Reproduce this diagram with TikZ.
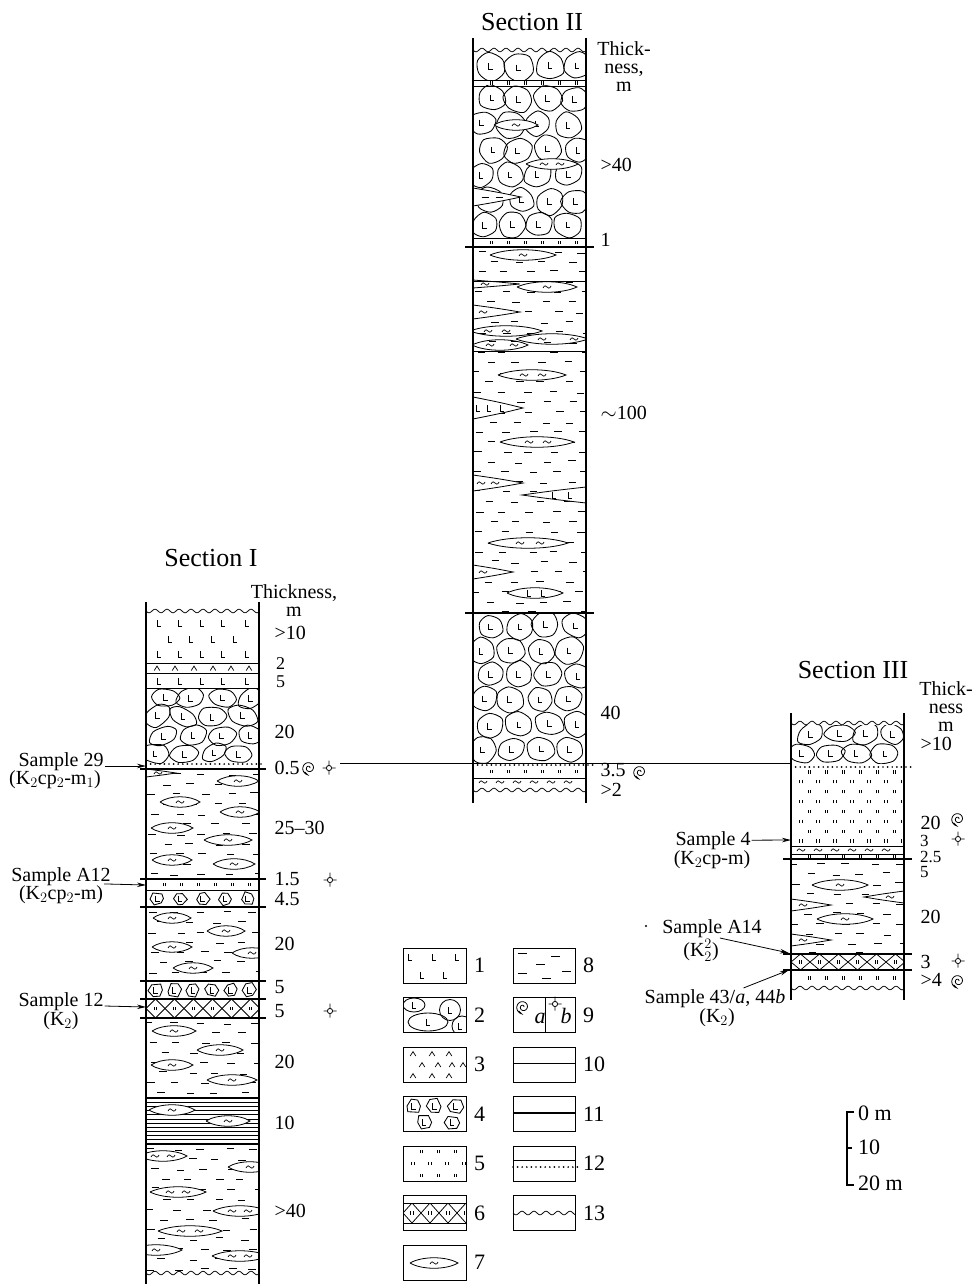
\documentclass[tikz,border=0pt]{standalone}
\usepackage{fontspec}
\setmainfont{Liberation Serif}
\usetikzlibrary{arrows.meta,calc}

\tikzset{
  wall/.style={line width=1.4pt},
  bed/.style={line width=0.75pt},
  thickbed/.style={line width=2.4pt},
  dotbed/.style={line width=1.9pt,dash pattern=on 0pt off 4.6pt,line cap=round},
  pebble/.style={line width=0.85pt},
  lensline/.style={line width=0.8pt,fill=white},
  lensopen/.style={line width=0.8pt},
  clay/.style={line width=0.8pt},
  sectitle/.style={font=\fontsize{26}{26}\selectfont,inner sep=0pt},
  thickhead/.style={font=\fontsize{20}{18}\selectfont,align=center,inner sep=0pt},
  num/.style={font=\fontsize{20}{20}\selectfont,anchor=west,inner sep=0.5pt},
  smallnum/.style={font=\fontsize{17}{17}\selectfont,anchor=west,inner sep=0pt},
  samplelbl/.style={font=\fontsize{20}{20}\selectfont,anchor=base,inner sep=1pt},
  samplearrow/.style={line width=0.8pt,-{Stealth[length=9pt,width=4.5pt]}},
  legbox/.style={line width=1pt},
  legnum/.style={font=\fontsize{22}{22}\selectfont,anchor=west,inner sep=0pt},
  lmark/.pic={\draw[line width=0.75pt] (-2,3) -- (-2,-3) -- (2.2,-3);},
  caret/.pic={\draw[line width=0.7pt] (-2.8,-2) -- (0,2.4) -- (2.8,-2);},
  iimark/.pic={\draw[line width=0.7pt] (-1.3,-1.6) -- (-1.3,1.6) (1.3,-1.6) -- (1.3,1.6);},
  tilde/.pic={\draw[line width=0.7pt] (-4,-1) .. controls (-2.5,2.2) and (-1,1.2) .. (0,0) .. controls (1,-1.2) and (2.5,-2.2) .. (4,1);},
  dashmark/.pic={\draw[line width=0.8pt] (-3.5,0) -- (3.5,0);},
  fossila/.pic={\draw[line width=0.8pt] plot[domain=0:620,samples=50,smooth] ({(0.8+\x/100)*cos(\x)},{(0.8+\x/100)*sin(\x)}) -- ++(-3,3);},
  fossilb/.pic={\draw[line width=0.8pt] (0,0) circle (2.6) (0,2.6) -- (0,7.5) (0,-2.6) -- (0,-6.5) (-2.6,0) -- (-6.5,0) (2.6,0) -- (6.5,0);},
}

% wavy line: x1 x2 y
\newcommand{\wavyline}[3]{\draw[bed] plot[domain=#1:#2,samples=90,smooth] (\x,{#3+1.8*sin((\x-#1)*30)});}
% clay dashes: x1 y1 x2 y2 seed
\newcommand{\clayfill}[5]{%
  \begin{scope}
    \clip (#1,#2) rectangle (#3,#4);
    \pgfmathsetseed{#5}
    \pgfmathtruncatemacro{\nrow}{(#4-#2)/10}
    \foreach \rr in {0,...,\nrow}{
      \foreach \cc in {0,...,5}{
        \pgfmathsetmacro{\dxx}{#1+2+\cc*26+mod(\rr,2)*13+4*rand}
        \pgfmathsetmacro{\dyy}{#2+5+\rr*10+1.2*rand}
        \draw[clay] (\dxx,\dyy) -- ++(7.5,0);
      }}
  \end{scope}}
% lens: x y halfwidth offsets pic
\newcommand{\lensat}[5]{%
  \draw[lensline] ({#1-#3},#2) .. controls ({#1-#3/2},{#2-7}) and ({#1+#3/2},{#2-7}) .. ({#1+#3},#2) .. controls ({#1+#3/2},{#2+7}) and ({#1-#3/2},{#2+7}) .. ({#1-#3},#2);
  \foreach \o in {#4}{\pic at ({#1+(\o)},#2) {#5};}}
\newcommand{\openlens}[5]{%
  \draw[lensopen] ({#1-#3},#2) .. controls ({#1-#3/2},{#2-7}) and ({#1+#3/2},{#2-7}) .. ({#1+#3},#2) .. controls ({#1+#3/2},{#2+7}) and ({#1-#3/2},{#2+7}) .. ({#1-#3},#2);
  \foreach \o in {#4}{\pic at ({#1+(\o)},#2) {#5};}}
% wedge from a wall: wall-x y length(signed) height offsets pic
\newcommand{\wedgeat}[6]{%
  \draw[lensline] (#1,{#2-#4/2}) .. controls ({#1+0.55*(#3)},{#2-#4/4}) .. ({#1+(#3)},#2) .. controls ({#1+0.55*(#3)},{#2+#4/4}) .. (#1,{#2+#4/2}) -- cycle;
  \foreach \o in {#5}{\pic at ({#1+(\o)},#2) {#6};}}
% pebbles: x1 y1 x2 y2 ncol nrow seed
\newcommand{\pebblefill}[7]{%
  \begin{scope}
    \clip (#1,#2) rectangle (#3,#4);
    \pgfmathsetseed{#7}
    \pgfmathsetmacro{\pdx}{(#3-#1)/#5}
    \pgfmathsetmacro{\pdy}{(#4-#2)/#6}
    \foreach \j in {1,...,#6}{
      \foreach \i in {1,...,#5}{
        \pgfmathsetmacro{\pcx}{#1+(\i-0.5)*\pdx+(mod(\j,2)-0.5)*0.3*\pdx+0.08*\pdx*rand}
        \pgfmathsetmacro{\pcy}{#2+(\j-0.5)*\pdy+0.06*\pdy*rand}
        \pgfmathsetmacro{\prx}{0.49*\pdx*(1+0.1*rand)}
        \pgfmathsetmacro{\pry}{0.49*\pdy*(1+0.1*rand)}
        \pgfmathsetmacro{\prot}{35*rand}
        \draw[pebble,shift={(\pcx,\pcy)},rotate=\prot] plot[smooth cycle,samples at={0,60,...,300}] ({\prx*(1+0.1*(2*rnd-1))*cos(\x)},{\pry*(1+0.12*(2*rnd-1))*sin(\x)});
        \pic at (\pcx,\pcy) {lmark};
      }}
  \end{scope}}
% angular clasts: x1 y1 x2 y2 n seed radius
\newcommand{\clastfill}[7]{%
  \begin{scope}
    \clip (#1,#2) rectangle (#3,#4);
    \pgfmathsetseed{#6}
    \pgfmathsetmacro{\cdx}{(#3-#1)/#5}
    \foreach \i in {1,...,#5}{
      \pgfmathsetmacro{\ccx}{#1+(\i-0.5)*\cdx}
      \pgfmathsetmacro{\ccy}{(#2+#4)/2}
      \draw[pebble,shift={(\ccx,\ccy)}] plot[samples at={0,60,...,300}] ({\x+12*(2*rnd-1)}:{#7*(1+0.18*(2*rnd-1))}) -- cycle;
      \pic at (\ccx,\ccy) {lmark};
    }
  \end{scope}}
% sandy ticks: x1 y1 x2 y2 nrows
\newcommand{\tickfill}[5]{%
  \begin{scope}
    \clip (#1,#2) rectangle (#3,#4);
    \pgfmathsetmacro{\tdy}{(#4-#2)/#5}
    \foreach \rr in {1,...,#5}{
      \pgfmathsetmacro{\tyy}{#2+(\rr-0.5)*\tdy}
      \pgfmathsetmacro{\toff}{mod(\rr,2)*8.5}
      \foreach \k in {0,...,7}{\pic at ({#1+10+\toff+\k*17},\tyy) {iimark};}
    }
  \end{scope}}
% crossed diamonds: x1 y1 x2 y2 d
\newcommand{\diamondfill}[5]{%
  \begin{scope}
    \clip (#1,#2) rectangle (#3,#4);
    \foreach \k in {0,...,4}{
      \pgfmathsetmacro{\zx}{#1-#5/2+\k*2*#5}
      \draw[bed] (\zx,#2) -- ({\zx+#5},#4) -- ({\zx+2*#5},#2);
      \draw[bed] (\zx,#4) -- ({\zx+#5},#2) -- ({\zx+2*#5},#4);
      \pic at ({\zx+#5},{(#2+#4)/2}) {iimark};
      \pic at ({\zx+2*#5},{(#2+#4)/2}) {iimark};
    }
  \end{scope}}
% horizontal lines: x1 y1 x2 y2 n
\newcommand{\hlinefill}[5]{%
  \foreach \k in {1,...,#5}{\draw[bed] (#1,{#2+\k*(#4-#2)/(#5+1)}) -- (#3,{#2+\k*(#4-#2)/(#5+1)});}}

\begin{document}
\begin{tikzpicture}[x=1pt,y=1pt,yscale=-1]
\useasboundingbox (0,0) rectangle (974,1284);

%%%%%%%%%%%%%%%% Section I
\begin{scope}
\clip (146,602) rectangle (259,1284);
\wavyline{146}{259}{611}
\foreach \lx in {159,180,202,223,247}{\pic at (\lx,623) {lmark}; \pic at (\lx,654) {lmark}; \pic at (\lx,681) {lmark};}
\foreach \lx in {170,191,213,235}{\pic at (\lx,639) {lmark};}
\foreach \lx in {157,175,194,213,231,249}{\pic at (\lx,668.5) {caret};}
\pebblefill{146}{688}{259}{763}{4}{4}{11}
\clayfill{146}{769}{259}{879}{21}
\wedgeat{146}{773}{30}{8}{12}{tilde}
\lensat{238}{781}{21}{0}{tilde}
\lensat{180}{802}{20}{0}{tilde}
\lensat{240}{812}{20}{0}{tilde}
\lensat{172}{828}{21}{0}{tilde}
\lensat{228}{840}{24}{0}{tilde}
\lensat{172}{860}{20}{0}{tilde}
\lensat{234}{864}{21}{0}{tilde}
\tickfill{146}{879}{259}{890}{1}
\clastfill{146}{890}{259}{907}{5}{31}{6.5}
\clayfill{146}{907}{259}{981}{22}
\lensat{172}{918}{19}{0}{tilde}
\lensat{226}{931}{19}{0}{tilde}
\lensat{172}{947}{20}{0}{tilde}
\lensat{252}{953}{20}{0}{tilde}
\lensat{193}{968}{20}{0}{tilde}
\clastfill{146}{981}{259}{999}{6}{32}{6.8}
\diamondfill{146}{999}{259}{1018}{19}
\clayfill{146}{1018}{259}{1098}{23}
\lensat{174}{1031}{22}{0}{tilde}
\lensat{220}{1050}{23}{0}{tilde}
\lensat{172}{1065}{21}{0}{tilde}
\lensat{232}{1080}{25}{0}{tilde}
\hlinefill{146}{1098}{259}{1144}{10}
\lensat{172}{1110}{23}{0}{tilde}
\lensat{228}{1121}{22}{0}{tilde}
\clayfill{146}{1144}{259}{1273}{24}
\lensat{163}{1156}{24}{-8,8}{tilde}
\lensat{250}{1167}{22}{0}{tilde}
\lensat{178}{1192}{28}{-8,8}{tilde}
\lensat{240}{1211}{27}{-8,8}{tilde}
\lensat{190}{1231}{32}{-9,9}{tilde}
\lensat{156}{1250}{26}{0}{tilde}
\lensat{240}{1256}{28}{-8,8}{tilde}
\wavyline{146}{259}{1273}
\end{scope}
%Straight Lines
\draw[bed] (146,663) -- (259,663);
\draw[bed] (146,673) -- (259,673);
\draw[bed] (146,688) -- (259,688);
\draw[dotbed] (146,764) -- (262,764);
\draw[thickbed] (140,769) -- (266,769);
\draw[thickbed] (140,879) -- (266,879);
\draw[bed] (146,890) -- (259,890);
\draw[thickbed] (140,907) -- (266,907);
\draw[thickbed] (140,981) -- (266,981);
\draw[thickbed] (140,999) -- (266,999);
\draw[thickbed] (140,1018) -- (266,1018);
\draw[bed,line width=1.1pt] (146,1098) -- (259,1098);
\draw[bed,line width=1.1pt] (146,1144) -- (259,1144);
\draw[wall] (146,602) -- (146,1284);
\draw[wall] (259,602) -- (259,1284);

%%%%%%%%%%%%%%%% Section II
\begin{scope}
\clip (473,38) rectangle (586,803);
\wavyline{473}{586}{50}
\pebblefill{473}{52}{586}{80}{4}{1}{41}
\tickfill{473}{80}{586}{86}{1}
\pebblefill{473}{86}{586}{238}{4}{6}{42}
\lensat{516}{125}{22}{0}{tilde}
\lensat{552}{164}{26}{-8,8}{tilde}
\wedgeat{473}{197}{48}{18}{12,26}{dashmark}
\tickfill{473}{238}{586}{247}{1}
\clayfill{473}{247}{586}{613}{43}
\lensat{523}{255}{33}{0}{tilde}
\wedgeat{473}{284}{47}{8}{12}{tilde}
\lensat{547}{287}{30}{0}{tilde}
\wedgeat{473}{312}{47}{14}{10}{tilde}
\openlens{506}{331}{36}{-18,0}{tilde}
\openlens{552}{339}{36}{-10,22}{tilde}
\openlens{500}{345}{28}{-10,14}{tilde}
\lensat{532}{375}{34}{-8,10}{tilde}
\wedgeat{473}{408}{50}{22}{5,16,29}{lmark}
\lensat{537}{442}{37}{-8,10}{tilde}
\wedgeat{473}{483}{50}{16}{8,22}{tilde}
\wedgeat{586}{495}{-64}{16}{-32,-16}{lmark}
\lensat{528}{543}{40}{-8,12}{tilde}
\wedgeat{473}{572}{40}{14}{10}{tilde}
\lensat{535}{593}{28}{-6,8}{lmark}
\pebblefill{473}{613}{586}{762}{4}{6}{44}
\tickfill{473}{765}{586}{778}{1}
\foreach \tx in {483,500,517,534,551,568}{\pic at (\tx,782) {tilde};}
\wavyline{473}{586}{790}
\end{scope}
%Straight Lines
\draw[bed] (473,80) -- (586,80);
\draw[bed] (473,86) -- (586,86);
\draw[bed] (473,238) -- (586,238);
\draw[thickbed] (465,247) -- (594,247);
\draw[bed] (473,281) -- (586,281);
\draw[bed] (473,351) -- (586,351);
\draw[thickbed] (465,613) -- (594,613);
\draw[dotbed] (473,765) -- (597,765);
\draw[bed] (473,778) -- (586,778);
\draw[wall] (473,38) -- (473,803);
\draw[wall] (586,38) -- (586,803);

%%%%%%%%%%%%%%%% Section III
\begin{scope}
\clip (791,713) rectangle (904,1000);
\wavyline{791}{904}{723}
\pebblefill{791}{725}{904}{763}{4}{2}{51}
\tickfill{791}{767}{904}{846}{8}
\foreach \tx in {801,818,835,852,869,886}{\pic at (\tx,850) {tilde};}
\tickfill{791}{854}{904}{859}{1}
\clayfill{791}{859}{904}{954}{52}
\lensat{840}{885}{28}{0}{tilde}
\wedgeat{904}{897}{-40}{12}{-14}{tilde}
\wedgeat{791}{905}{40}{12}{12}{tilde}
\lensat{845}{919}{28}{0}{tilde}
\wedgeat{791}{940}{40}{12}{12}{tilde}
\diamondfill{791}{954}{904}{970}{19}
\tickfill{791}{970}{904}{986}{1}
\wavyline{791}{904}{988}
\end{scope}
%Straight Lines
\draw[dotbed] (791,767) -- (912,767);
\draw[bed] (791,846) -- (904,846);
\draw[bed] (791,854) -- (904,854);
\draw[thickbed] (783,859) -- (912,859);
\draw[thickbed] (783,954) -- (912,954);
\draw[thickbed] (783,970) -- (912,970);
\draw[wall] (791,713) -- (791,1000);
\draw[wall] (904,713) -- (904,1000);

% correlation line
\coordinate (corrI) at (340,763);
\coordinate (corrIII) at (791,763);
\draw[bed] (corrI) -- (corrIII);

% Text Node
\node[sectitle] (secI) at (211,558) {Section I};
\node[sectitle] (secII) at (532,22) {Section II};
\node[sectitle] (secIII) at (853,670) {Section III};
\node[thickhead] (thI) at (294,601) {Thickness,\\m};
\node[thickhead] (thII) at (624,67) {Thick-\\ness,\\m};
\node[thickhead] (thIII) at (946,707) {Thick-\\ness\\m};

% thicknesses, section I
\node[num] (nIa) at (274,633) {>10};
\node[smallnum,font=\fontsize{18}{18}\selectfont] (nIb) at (276,664) {2};
\node[smallnum,font=\fontsize{18}{18}\selectfont] (nIc) at (276,681.5) {5};
\node[num] (nId) at (274,732) {20};
\node[num] (nIe) at (274,768) {0.5};
\node[num] (nIf) at (274,828) {25--30};
\node[num] (nIg) at (274,879) {1.5};
\node[num] (nIh) at (274,899) {4.5};
\node[num] (nIi) at (274,944) {20};
\node[num] (nIj) at (274,987) {5};
\node[num] (nIk) at (274,1011) {5};
\node[num] (nIl) at (274,1062) {20};
\node[num] (nIm) at (274,1123) {10};
\node[num] (nIn) at (274,1211) {>40};
% thicknesses, section II
\node[num] (nIIa) at (600,165) {>40};
\node[num] (nIIb) at (600,240) {1};
\node[num] (nIIc) at (600,413) {$\sim$100};
\node[num] (nIId) at (600,713) {40};
\node[num] (nIIe) at (600,770) {3.5};
\node[num] (nIIf) at (600,790) {>2};
% thicknesses, section III
\node[num] (nIIIa) at (920,744) {>10};
\node[num] (nIIIb) at (920,823) {20};
\node[smallnum] (nIIIc) at (920,841) {3};
\node[smallnum] (nIIId) at (920,856.5) {2.5};
\node[smallnum] (nIIIe) at (920,872) {5};
\node[num] (nIIIf) at (920,917) {20};
\node[num] (nIIIg) at (920,962) {3};
\node[num] (nIIIh) at (920,980) {>4};

% fossils
\pic at (309,768) {fossila};
\pic at (329,768) {fossilb};
\pic at (330,880) {fossilb};
\pic at (330,1011) {fossilb};
\pic at (640,772) {fossila};
\pic at (958,819) {fossila};
\pic at (958,839) {fossilb};
\pic at (958,961) {fossilb};
\pic at (958,981) {fossila};

% samples
\node[samplelbl] (s29) at (61,766) {Sample 29};
\node[samplelbl] (s29k) at (55,784) {(K$_2$cp$_2$-m$_1$)};
\coordinate (c29) at (146,766);
\draw[samplearrow] (s29.base east) -- (c29);
\node[samplelbl] (sA12) at (61,881) {Sample A12};
\node[samplelbl] (sA12k) at (61,899) {(K$_2$cp$_2$-m)};
\coordinate (cA12) at (146,885);
\draw[samplearrow] (sA12k.north east) -- (cA12);
\node[samplelbl] (s12) at (61,1006) {Sample 12};
\node[samplelbl] (s12k) at (61,1025) {(K$_2$)};
\coordinate (c12) at (146,1007);
\draw[samplearrow] (s12.base east) -- (c12);
\node[samplelbl] (s4) at (713,845) {Sample 4};
\node[samplelbl] (s4k) at (712,864) {(K$_2$cp-m)};
\coordinate (c4) at (791,840);
\draw[samplearrow] (s4.east) -- (c4);
\fill (646,926) circle (1.2);
\node[samplelbl] (sA14) at (712,933) {Sample A14};
\node[samplelbl] (sA14k) at (701,956) {(K$_2^2$)};
\coordinate (cA14) at (789,953);
\draw[samplearrow] (sA14k.north east) -- (cA14);
\node[samplelbl] (s43) at (715,1003) {Sample 43/\textit{a}, 44\textit{b}};
\node[samplelbl] (s43k) at (717,1022) {(K$_2$)};
\coordinate (c43) at (789,970);
\draw[samplearrow] ($(s43.north)!0.4!(s43.north east)$) -- (c43);

%%%%%%%%%%%%%%%% Legend
\foreach \row in {0,...,6}{\draw[legbox] (403,{948+\row*49.5}) rectangle (466,{983+\row*49.5});}
\foreach \row in {0,...,5}{\draw[legbox] (513,{948+\row*49.5}) rectangle (575,{983+\row*49.5});}
% 1
\foreach \lx in {410,434,457}{\pic at (\lx,957) {lmark};}
\foreach \lx in {422,445}{\pic at (\lx,975) {lmark};}
% 2
\begin{scope}
\clip (403,997.5) rectangle (466,1032.5);
\draw[pebble] (414,1005) ellipse [x radius=11, y radius=7];
\draw[pebble] (450,1010) circle (10.5);
\draw[pebble] (428,1022) ellipse [x radius=20, y radius=9];
\draw[pebble] (462,1026) circle (10);
\foreach \px/\py in {414/1005,450/1010,428/1022,460/1026}{\pic at (\px,\py) {lmark};}
\end{scope}
% 3
\foreach \lx in {413,432,449}{\pic at (\lx,1054) {caret}; \pic at (\lx,1076) {caret};}
\foreach \lx in {422,438,452,463}{\pic at (\lx,1065) {caret};}
% 4
\clastfill{403}{1097}{466}{1115}{3}{71}{7.5}
\clastfill{410}{1113}{466}{1131.5}{2}{72}{7.5}
% 5
\tickfill{403}{1146}{466}{1181}{3}
% 6
\draw[bed] (403,1203) -- (466,1203);
\draw[bed] (403,1223) -- (466,1223);
\diamondfill{403}{1203}{466}{1223}{18}
% 7
\lensat{434}{1263}{24}{0}{tilde}
% 8
\foreach \ax/\ay in {518/953,551/956,536/964,518/973,562/971,542/978}{\draw[clay] (\ax,\ay) -- ++(9,0);}
% 9
\draw[legbox] (545,997.5) -- (545,1032.5);
\pic at (523,1007) {fossila};
\pic at (555,1004) {fossilb};
\node[font=\itshape\fontsize{22}{22}\selectfont,anchor=base,inner sep=0pt] (lega) at (540,1023) {a};
\node[font=\itshape\fontsize{22}{22}\selectfont,anchor=base,inner sep=0pt] (legb) at (566,1023) {b};
% 10
\draw[bed] (513,1063) -- (575,1063);
% 11
\draw[thickbed] (513,1113) -- (575,1113);
% 12
\draw[bed] (513,1160) -- (575,1160);
\draw[dotbed] (513,1167) -- (580,1167);
% 13
\wavyline{513}{575}{1213}
% numbers
\node[legnum] (lg1) at (474,965.5) {1};
\node[legnum] (lg2) at (474,1015) {2};
\node[legnum] (lg3) at (474,1064.5) {3};
\node[legnum] (lg4) at (474,1114) {4};
\node[legnum] (lg5) at (474,1163.5) {5};
\node[legnum] (lg6) at (474,1213) {6};
\node[legnum] (lg7) at (474,1262.5) {7};
\node[legnum] (lg8) at (583,965.5) {8};
\node[legnum] (lg9) at (583,1015) {9};
\node[legnum] (lg10) at (583,1064.5) {10};
\node[legnum] (lg11) at (583,1114) {11};
\node[legnum] (lg12) at (583,1163.5) {12};
\node[legnum] (lg13) at (583,1213) {13};

%%%%%%%%%%%%%%%% Scale
\draw[wall] (854,1112) -- (847,1112) -- (847,1185) -- (854,1185);
\draw[wall] (847,1148) -- (852,1148);
\node[legnum] (sc0) at (858,1113) {0 m};
\node[legnum] (sc10) at (858,1147) {10};
\node[legnum] (sc20) at (858,1183) {20 m};

\end{tikzpicture}
\end{document}
